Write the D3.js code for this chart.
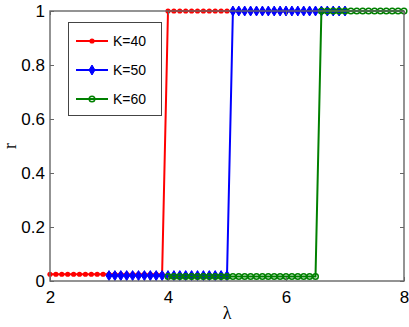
<!DOCTYPE html>
<html>
<head>
<meta charset="utf-8">
<script src="https://cdn.jsdelivr.net/npm/d3@7"></script>
<style>
  body { margin: 0; background: #fff; }
  svg { font-family: "Liberation Sans", Arial, sans-serif; }
</style>
</head>
<body>
<svg id="chart" width="409" height="327"></svg>
<script>
// lambda values and r for each K
const lambda40 = [2.0,2.1,2.2,2.3,2.4,2.5,2.6,2.7,2.8,2.9,3.0,3.1,3.2,3.3,3.4,3.5,3.6,3.7,3.8,3.9,
  4.0,4.1,4.2,4.3,4.4,4.5,4.6,4.7,4.8,4.9,5.0,5.1,5.2,5.3,5.4,5.5,5.6,5.7,5.8,5.9,6.0];
const r40 = [0.025,0.025,0.025,0.025,0.025,0.025,0.025,0.025,0.025,0.025,0.025,0.025,0.025,0.025,0.025,0.025,0.025,0.025,0.025,0.025,
  1,1,1,1,1,1,1,1,1,1,1,1,1,1,1,1,1,1,1,1,1];

const lambda50 = [3.0,3.1,3.2,3.3,3.4,3.5,3.6,3.7,3.8,3.9,4.0,4.1,4.2,4.3,4.4,4.5,4.6,4.7,4.8,4.9,5.0,
  5.1,5.2,5.3,5.4,5.5,5.6,5.7,5.8,5.9,6.0,6.1,6.2,6.3,6.4,6.5,6.6,6.7,6.8,6.9,7.0];
const r50 = [0.02,0.02,0.02,0.02,0.02,0.02,0.02,0.02,0.02,0.02,0.02,0.02,0.02,0.02,0.02,0.02,0.02,0.02,0.02,0.02,0.02,
  1,1,1,1,1,1,1,1,1,1,1,1,1,1,1,1,1,1,1,1];

const lambda60 = [4.0,4.1,4.2,4.3,4.4,4.5,4.6,4.7,4.8,4.9,5.0,5.1,5.2,5.3,5.4,5.5,5.6,5.7,5.8,5.9,6.0,6.1,6.2,6.3,6.4,6.5,
  6.6,6.7,6.8,6.9,7.0,7.1,7.2,7.3,7.4,7.5,7.6,7.7,7.8,7.9,8.0];
const r60 = [0.0167,0.0167,0.0167,0.0167,0.0167,0.0167,0.0167,0.0167,0.0167,0.0167,0.0167,0.0167,0.0167,
  0.0167,0.0167,0.0167,0.0167,0.0167,0.0167,0.0167,0.0167,0.0167,0.0167,0.0167,0.0167,0.0167,
  1,1,1,1,1,1,1,1,1,1,1,1,1,1,1];

const seriesNames = ["K=40", "K=50", "K=60"];
const seriesColors = ["#ff0000", "#0000ff", "#008000"];
const xTicks = [2, 4, 6, 8];
const yTicks = [0, 0.2, 0.4, 0.6, 0.8, 1];

const svg = d3.select("#chart");
const mLeft = 50, mRight = 404, mTop = 11, mBottom = 281;

const x = d3.scaleLinear().domain([2, 8]).range([mLeft, mRight]);
const y = d3.scaleLinear().domain([0, 1]).range([mBottom, mTop]);

const series = [
  { name: seriesNames[0], color: seriesColors[0], marker: "dot",
    pts: lambda40.map((l, i) => [l, r40[i]]) },
  { name: seriesNames[1], color: seriesColors[1], marker: "diamond",
    pts: lambda50.map((l, i) => [l, r50[i]]) },
  { name: seriesNames[2], color: seriesColors[2], marker: "circle",
    pts: lambda60.map((l, i) => [l, r60[i]]) }
];

function drawMarker(g, type, color, cx, cy) {
  if (type === "dot") {
    g.append("circle").attr("cx", cx).attr("cy", cy).attr("r", 2.6)
      .attr("fill", color);
  } else if (type === "diamond") {
    g.append("path")
      .attr("d", `M${cx},${cy - 5}L${cx + 3},${cy}L${cx},${cy + 5}L${cx - 3},${cy}Z`)
      .attr("fill", color).attr("stroke", color).attr("stroke-width", 1);
  } else {
    g.append("circle").attr("cx", cx).attr("cy", cy).attr("r", 2.8)
      .attr("fill", "none").attr("stroke", color).attr("stroke-width", 1.5);
  }
}

const line = d3.line().x(d => x(d[0])).y(d => y(d[1]));

const plot = svg.append("g");
series.forEach(s => {
  plot.append("path")
    .attr("d", line(s.pts))
    .attr("fill", "none")
    .attr("stroke", s.color)
    .attr("stroke-width", 2);
  const mg = plot.append("g");
  s.pts.forEach(p => drawMarker(mg, s.marker, s.color, x(p[0]), y(p[1])));
});

// axes box, MATLAB style with inward ticks
const axisColor = "#666";
svg.append("rect")
  .attr("x", mLeft).attr("y", mTop)
  .attr("width", mRight - mLeft).attr("height", mBottom - mTop)
  .attr("fill", "none").attr("stroke", axisColor).attr("stroke-width", 1.4);

const fmt = d3.format("~g");
const axB = svg.append("g").attr("transform", `translate(0,${mBottom})`)
  .call(d3.axisBottom(x).tickValues(xTicks).tickSizeInner(-4).tickSizeOuter(0).tickPadding(9)
    .tickFormat(fmt));
const axL = svg.append("g").attr("transform", `translate(${mLeft},0)`)
  .call(d3.axisLeft(y).tickValues(yTicks).tickSizeInner(-4).tickSizeOuter(0).tickPadding(5)
    .tickFormat(fmt));
const axR = svg.append("g").attr("transform", `translate(${mRight},0)`)
  .call(d3.axisRight(y).tickValues(yTicks).tickSizeInner(-4).tickSizeOuter(0).tickFormat(""));
const axT = svg.append("g").attr("transform", `translate(0,${mTop})`)
  .call(d3.axisTop(x).tickValues(xTicks).tickSizeInner(-4).tickSizeOuter(0).tickFormat(""));

[axB, axL, axR, axT].forEach(a => {
  a.select(".domain").remove();
  a.selectAll(".tick line").attr("stroke", axisColor);
  a.selectAll(".tick text").attr("fill", "#000").attr("font-size", 17)
    .attr("font-family", "Liberation Sans, Arial, sans-serif");
});
axB.selectAll(".tick text").attr("dy", "0.75em");

// axis labels
svg.append("text")
  .attr("x", 227).attr("y", 319)
  .attr("text-anchor", "middle").attr("font-size", 18)
  .attr("font-family", "Liberation Serif, Times New Roman, serif")
  .text("λ");
svg.append("text")
  .attr("transform", `translate(16,${(mTop + mBottom) / 2}) rotate(-90)`)
  .attr("text-anchor", "middle").attr("font-size", 18)
  .attr("font-family", "Liberation Serif, Times New Roman, serif")
  .text("r");

// legend
const legend = svg.append("g");
legend.append("rect")
  .attr("x", 68.5).attr("y", 22.5).attr("width", 93).attr("height", 93)
  .attr("fill", "#fff").attr("stroke", "#444").attr("stroke-width", 1);
series.forEach((s, i) => {
  const ly = 41 + i * 29;
  legend.append("line")
    .attr("x1", 76).attr("x2", 108).attr("y1", ly).attr("y2", ly)
    .attr("stroke", s.color).attr("stroke-width", 2);
  drawMarker(legend, s.marker, s.color, 92, ly);
  legend.append("text")
    .attr("x", 113).attr("y", ly + 5)
    .attr("font-size", 14).text(s.name);
});
</script>
</body>
</html>
